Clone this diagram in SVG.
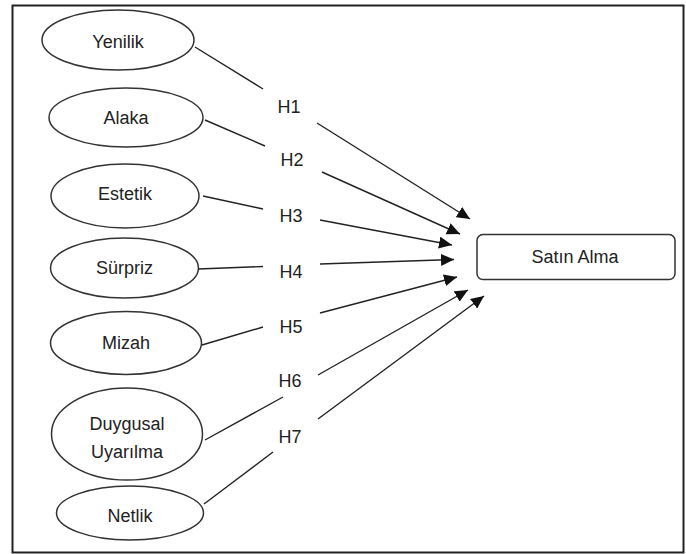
<svg xmlns="http://www.w3.org/2000/svg" width="686" height="554" viewBox="0 0 686 554">
<defs>
<marker id="ah" markerUnits="userSpaceOnUse" markerWidth="14" markerHeight="12" refX="13" refY="6" orient="auto">
<path d="M0,0 L13,6 L0,12 Z" fill="#111"/>
</marker>
<style>
.n ellipse{fill:#fff;stroke:#333;stroke-width:1.5}
.n rect{fill:#fff;stroke:#333;stroke-width:1.5}
text{font-family:"Liberation Sans",Arial,sans-serif;font-size:18px;fill:#222;text-anchor:middle;dominant-baseline:central}
.c line{stroke:#222;stroke-width:1.4}
.c line.a{marker-end:url(#ah)}
</style>
</defs>
<rect x="12.5" y="5.5" width="671" height="547" fill="#fff" stroke="#222" stroke-width="2"/>
<g id="yenilik" class="n"><ellipse cx="118" cy="40" rx="76" ry="30"/><text x="118" y="42">Yenilik</text></g>
<g id="alaka" class="n"><ellipse cx="126" cy="117.5" rx="77" ry="29.5"/><text x="126" y="118">Alaka</text></g>
<g id="estetik" class="n"><ellipse cx="125" cy="196" rx="74" ry="32"/><text x="125" y="194">Estetik</text></g>
<g id="surpriz" class="n"><ellipse cx="124.5" cy="268" rx="74" ry="30"/><text x="124.5" y="268">Sürpriz</text></g>
<g id="mizah" class="n"><ellipse cx="126" cy="343" rx="75.5" ry="31.5"/><text x="126" y="343">Mizah</text></g>
<g id="duygusal" class="n"><ellipse cx="127" cy="434" rx="75.5" ry="46"/><text x="127" y="424">Duygusal</text><text x="127" y="452">Uyarılma</text></g>
<g id="netlik" class="n"><ellipse cx="130" cy="513" rx="73.5" ry="27"/><text x="130" y="516">Netlik</text></g>
<g id="satin" class="n"><rect x="477" y="234.5" width="198" height="45" rx="6"/><text x="575" y="257">Satın Alma</text></g>
<g id="connectors" class="c">
<line x1="195" y1="47" x2="263" y2="89"/>
<line class="a" x1="317" y1="123" x2="470" y2="219"/>
<line x1="205" y1="120" x2="265" y2="146"/>
<line class="a" x1="322" y1="172" x2="460" y2="234"/>
<line x1="203" y1="196" x2="263" y2="209"/>
<line class="a" x1="320" y1="220" x2="452" y2="245"/>
<line x1="198" y1="269" x2="263" y2="266.5"/>
<line class="a" x1="320" y1="264" x2="454" y2="259.5"/>
<line x1="202" y1="345" x2="263" y2="327"/>
<line class="a" x1="320" y1="313" x2="457" y2="277"/>
<line x1="205" y1="440" x2="283" y2="397"/>
<line class="a" x1="318" y1="375" x2="468" y2="290"/>
<line x1="204" y1="504" x2="273" y2="452"/>
<line class="a" x1="318" y1="419" x2="484" y2="296"/>
</g>
<g id="labels">
<text x="289" y="107">H1</text>
<text x="292" y="160">H2</text>
<text x="291" y="216">H3</text>
<text x="291" y="272">H4</text>
<text x="291" y="327">H5</text>
<text x="290" y="381">H6</text>
<text x="290" y="437">H7</text>
</g>
</svg>
